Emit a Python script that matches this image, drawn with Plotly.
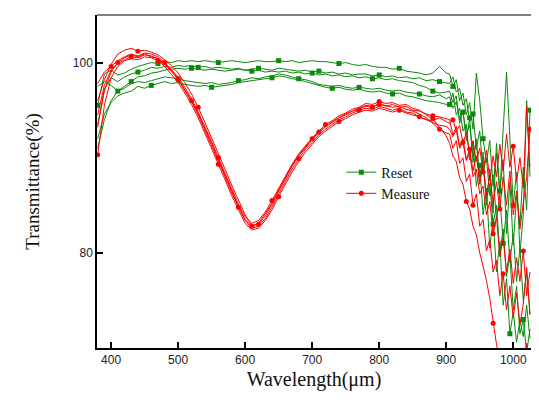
import plotly.graph_objects as go

wavelength = [380, 390, 400, 410, 420, 430, 440, 450, 460, 470, 480, 490, 500, 510, 520, 530, 540, 550, 560, 570,
              580, 590, 600, 610, 620, 630, 640, 650, 660, 670, 680, 690, 700, 710, 720, 730, 740, 750, 760, 770,
              780, 790, 800, 810, 820, 830, 840, 850, 860, 870, 880, 890, 900,
              905, 910, 915, 920, 925, 930, 935, 940, 945, 950, 955, 960, 965, 970, 975, 980, 985, 990, 995,
              1000, 1005, 1010, 1015, 1020, 1025]

reset_1 = [95.5, 98.8, 99.2, 98.7, 98.9, 99.3, 99.6, 99.8, 100.0, 99.9, 100.1, 100.0, 100.2, 100.1, 100.2, 100.1,
           100.2, 100.1, 100.0, 100.1, 100.2, 100.1, 100.0, 100.1, 100.2, 100.1, 100.1, 100.2, 100.1, 100.2, 100.0,
           100.1, 100.2, 100.1, 100.1, 100.0, 99.9, 100.0, 99.8, 99.7, 99.8, 99.6, 99.5, 99.5, 99.3, 99.4, 99.1,
           99.0, 98.9, 98.7, 98.9, 99.6, 98.9,
           98.8, 97.5, 98.2, 96.0, 96.8, 94.5, 95.8, 93.0, 98.9, 96.0, 92.0, 89.5, 91.8, 87.0, 90.5, 86.0, 93.0,
           99.0, 92.0, 85.0, 88.5, 80.0, 84.0, 96.0, 88.0]
reset_2 = [93.5, 97.2, 98.4, 98.0, 98.5, 98.8, 99.0, 99.2, 99.5, 99.4, 99.6, 99.5, 99.7, 99.6, 99.7, 99.5, 99.6,
           99.4, 99.5, 99.4, 99.3, 99.4, 99.2, 99.3, 99.4, 99.3, 99.2, 99.4, 99.3, 99.2, 99.1, 99.2, 99.0, 99.1,
           98.9, 99.0, 98.8, 98.9, 98.7, 98.8, 98.8, 98.6, 98.7, 98.5, 98.6, 98.4, 98.5, 98.3, 98.4, 98.1, 98.2,
           98.0, 97.9,
           97.8, 98.5, 96.9, 97.3, 95.5, 96.2, 93.8, 94.6, 91.0, 92.8, 88.5, 90.0, 86.0, 88.2, 83.5, 86.0, 81.0,
           84.5, 79.0, 82.0, 77.0, 80.5, 75.0, 78.0, 73.5]
reset_3 = [97.5, 98.0, 97.6, 97.0, 97.3, 97.8, 98.0, 97.9, 98.1, 98.3, 98.5, 98.4, 98.3, 98.1, 98.0, 97.9, 97.8,
           97.9, 97.7, 97.8, 97.9, 98.1, 98.2, 98.4, 98.3, 98.5, 98.6, 98.8, 98.7, 98.5, 98.3, 98.2, 98.0, 97.7,
           97.6, 97.5, 97.6, 97.4, 97.3, 97.4, 97.3, 97.2, 97.3, 97.1, 97.0, 97.1, 96.9, 96.8, 96.7, 96.5, 96.4,
           96.6, 96.2,
           96.4, 95.2, 95.9, 94.0, 94.8, 92.5, 93.4, 90.2, 91.5, 88.0, 89.6, 85.5, 87.3, 83.0, 85.0, 80.0, 82.5,
           77.5, 79.8, 74.0, 76.5, 71.5, 73.0, 69.5, 72.0]
reset_4 = [92.0, 94.6, 95.8, 96.5, 96.8, 97.0, 97.5, 97.3, 97.6, 97.8, 98.0, 97.8, 97.9, 97.7, 97.6, 97.5, 97.6,
           97.4, 97.5, 97.6, 97.7, 97.9, 98.0, 98.1, 98.2, 98.3, 98.4, 98.6, 98.5, 98.3, 98.2, 98.0, 97.8, 97.6,
           97.4, 97.3, 97.4, 97.2, 97.1, 97.2, 97.0, 96.9, 97.0, 96.8, 96.7, 96.8, 96.5, 96.4, 96.2, 96.0, 95.9,
           95.8, 95.6,
           95.6, 96.8, 94.5, 95.2, 92.8, 93.5, 89.8, 91.7, 87.0, 89.2, 84.0, 86.8, 80.5, 83.6, 78.0, 81.2, 74.5,
           77.3, 71.5, 73.8, 70.6, 72.9, 71.2, 74.5, 71.0]
reset_5 = [91.0, 94.0, 96.0, 97.0, 97.5, 98.0, 98.5, 98.6, 98.9, 99.0, 99.2, 99.3, 99.4, 99.3, 99.4, 99.3, 99.2,
           99.3, 99.2, 99.1, 99.2, 99.3, 99.2, 99.1, 99.2, 99.0, 99.1, 99.0, 99.1, 98.9, 99.0, 98.8, 98.9, 98.7,
           98.8, 98.6, 98.7, 98.5, 98.6, 98.4, 98.5, 98.3, 98.4, 98.2, 98.3, 98.1, 98.0, 97.9, 97.6, 97.4, 97.0,
           96.8, 96.9,
           97.0, 95.8, 96.5, 93.6, 95.0, 91.8, 94.2, 89.5, 92.0, 87.2, 90.6, 85.0, 88.8, 84.2, 91.5, 86.5, 89.8,
           82.0, 87.5, 80.8, 86.0, 83.0, 89.0, 84.5, 95.0]

measure_1 = [97.8, 99.0, 99.6, 100.2, 100.6, 100.9, 100.7, 101.0, 100.9, 100.6, 100.0, 99.3, 98.5, 97.4, 96.2,
             94.8, 93.3, 91.7, 90.0, 88.4, 86.7, 85.1, 83.8, 83.1, 83.4, 84.3, 85.5, 86.8, 88.1, 89.3, 90.4, 91.3,
             92.1, 92.8, 93.5, 93.9, 94.4, 94.7, 95.1, 95.3, 95.7, 95.6, 95.9, 95.7, 95.8, 95.5, 95.6, 95.2, 95.0,
             94.5, 94.1, 93.2, 92.3,
             91.5, 90.2, 89.6, 87.9, 87.2, 85.4, 84.6, 82.8, 81.9, 80.0, 78.6, 77.1, 75.2, 72.6, 70.4, 68.5, 67.0,
             66.5, 67.5, 66.0, 68.0, 69.5, 67.8, 70.5, 68.0]
measure_2 = [96.0, 98.2, 99.8, 100.9, 101.3, 101.5, 101.2, 101.3, 101.1, 100.8, 100.3, 99.7, 98.9, 97.9, 96.7,
             95.3, 93.7, 92.1, 90.4, 88.8, 87.1, 85.5, 84.0, 82.9, 83.0, 83.9, 85.1, 86.5, 87.8, 89.1, 90.2, 91.1,
             91.9, 92.7, 93.3, 93.8, 94.2, 94.6, 94.9, 95.2, 95.5, 95.4, 95.6, 95.5, 95.3, 95.4, 95.1, 94.9, 94.6,
             94.2, 93.6, 93.0, 92.6,
             92.5, 91.0, 91.8, 89.4, 90.0, 87.5, 88.3, 85.0, 86.2, 82.8, 83.5, 80.2, 81.4, 78.0, 79.2, 75.5, 77.8,
             74.0, 76.5, 73.2, 75.8, 72.5, 74.6, 78.5, 73.5]
measure_3 = [93.2, 97.0, 99.0, 100.0, 100.5, 100.8, 100.6, 100.9, 100.6, 100.4, 99.8, 99.1, 98.2, 97.1, 95.9,
             94.5, 92.9, 91.3, 89.7, 88.0, 86.3, 84.8, 83.4, 82.6, 82.8, 83.6, 84.8, 86.2, 87.5, 88.8, 89.9, 90.9,
             91.6, 92.4, 93.0, 93.5, 94.0, 94.3, 94.7, 95.0, 95.2, 95.1, 95.4, 95.2, 95.0, 95.2, 94.8, 94.7, 94.3,
             94.0, 93.7, 93.4, 93.3,
             93.0, 92.2, 92.9, 91.0, 91.6, 89.7, 90.5, 88.0, 88.8, 86.2, 87.0, 84.0, 85.4, 82.0, 83.8, 79.6, 81.5,
             78.0, 80.4, 76.8, 79.5, 77.0, 80.2, 75.5, 78.0]
measure_4 = [90.3, 95.5, 98.4, 99.6, 100.2, 100.4, 100.3, 100.6, 100.5, 100.2, 99.6, 98.8, 97.9, 96.8, 95.6,
             94.2, 92.6, 91.0, 89.3, 87.7, 86.0, 84.5, 83.1, 82.4, 82.6, 83.4, 84.5, 85.9, 87.2, 88.5, 89.6, 90.6,
             91.4, 92.2, 92.8, 93.3, 93.8, 94.1, 94.5, 94.8, 95.0, 94.9, 95.2, 95.0, 94.8, 95.0, 94.7, 94.5, 94.3,
             94.0, 93.9, 94.2, 93.8,
             93.6, 94.0, 92.8, 93.4, 91.5, 92.6, 90.4, 91.8, 89.6, 91.0, 88.5, 90.8, 87.6, 90.2, 88.0, 91.4, 88.6,
             92.5, 89.0, 91.2, 87.5, 90.0, 86.8, 95.5, 89.0]
measure_5 = [94.5, 97.6, 99.2, 99.9, 100.3, 100.6, 100.5, 100.8, 100.7, 100.4, 99.9, 99.2, 98.3, 97.2, 96.0,
             94.6, 93.1, 91.5, 89.8, 88.2, 86.5, 84.9, 83.5, 82.8, 83.1, 84.1, 85.2, 86.6, 87.9, 89.2, 90.3, 91.2,
             92.0, 92.6, 93.3, 93.7, 94.2, 94.5, 94.9, 95.1, 95.4, 95.3, 95.7, 95.4, 95.6, 95.3, 95.4, 95.0, 94.9,
             94.6, 94.4, 94.3, 94.1,
             94.0, 92.4, 93.3, 91.2, 92.0, 89.8, 90.9, 88.6, 90.2, 87.4, 89.0, 86.0, 88.2, 85.2, 87.5, 84.6, 88.0,
             85.0, 88.6, 84.0, 86.5, 82.5, 85.0, 88.0, 93.0]

x_ticks = [400, 500, 600, 700, 800, 900, 1000]
y_ticks = [80, 100]

reset_series = [reset_1, reset_2, reset_3, reset_4, reset_5]
measure_series = [measure_1, measure_2, measure_3, measure_4, measure_5]

GREEN = "#0a8a0a"
RED = "#ff0000"

fig = go.Figure()
for i, ys in enumerate(reset_series):
    fig.add_trace(go.Scatter(
        x=wavelength, y=ys, mode="lines+markers", name="Reset",
        legendgroup="reset", showlegend=(i == 0),
        line=dict(color=GREEN, width=1),
        marker=dict(symbol="square", size=5, color=GREEN, maxdisplayed=9),
    ))
for i, ys in enumerate(measure_series):
    fig.add_trace(go.Scatter(
        x=wavelength, y=ys, mode="lines+markers", name="Measure",
        legendgroup="measure", showlegend=(i == 0),
        line=dict(color=RED, width=1),
        marker=dict(symbol="circle", size=5, color=RED, maxdisplayed=9),
    ))

axis_font = dict(family="Liberation Sans, Arial, sans-serif", size=12, color="#222")
xtitle_font = dict(family="Liberation Serif, Times New Roman, serif", size=20, color="#111")
ytitle_font = dict(family="Liberation Serif, Times New Roman, serif", size=19, color="#111")

# page body has an 8px margin, so the figure is offset by 8px; keep it inside the window
fig.update_layout(
    width=523, height=385,
    margin=dict(l=89, r=0, t=7, b=45),
    paper_bgcolor="white", plot_bgcolor="white",
    xaxis=dict(
        range=[379, 1026.5], tickvals=x_ticks, ticks="inside", ticklen=6, tickwidth=1.5,
        tickcolor="black", showline=True, linecolor="black", linewidth=1.5,
        showgrid=False, zeroline=False, tickfont=axis_font,
        title=dict(text="Wavelength(μm)", font=xtitle_font, standoff=6),
    ),
    yaxis=dict(
        range=[70, 105], tickvals=y_ticks, ticks="inside", ticklen=6, tickwidth=1.5,
        tickcolor="black", showline=True, linecolor="black", linewidth=1.5,
        showgrid=False, zeroline=False, tickfont=axis_font,
        title=dict(text="Transmittance(%)", font=ytitle_font, standoff=28),
    ),
    legend=dict(
        x=0.563, y=0.575, xanchor="left", yanchor="top",
        bgcolor="rgba(0,0,0,0)", borderwidth=0,
        font=dict(family="Liberation Serif, Times New Roman, serif", size=14, color="#111"),
        tracegroupgap=0,
    ),
    shapes=[dict(type="line", xref="paper", yref="paper", x0=0, x1=1, y0=1, y1=1,
                 line=dict(color="#555", width=1.5))],
)

fig.write_html("out.html")
